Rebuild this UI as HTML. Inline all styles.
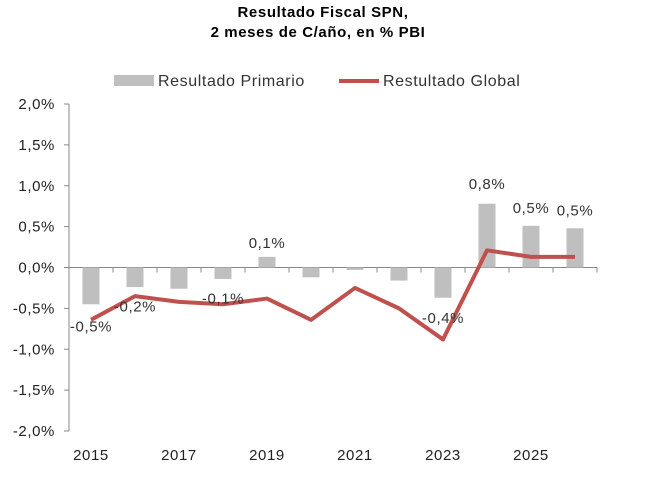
<!DOCTYPE html>
<html><head><meta charset="utf-8"><style>
body{margin:0;background:#fff;}
svg{display:block;font-family:"Liberation Sans",Arial,sans-serif;}
text{letter-spacing:0.6px;}
</style></head><body>
<svg id="chart" width="646" height="489">
<text x="323" y="17" text-anchor="middle" font-size="15" font-weight="bold" fill="#000">Resultado Fiscal SPN,</text>
<text x="318" y="37" text-anchor="middle" font-size="15" font-weight="bold" fill="#000">2 meses de C/año,  en % PBI</text>
<g>
<rect x="114" y="75" width="40" height="11" fill="#bfbfbf"/>
<text x="158" y="86" font-size="16" fill="#333">Resultado Primario</text>
<line x1="339" y1="81" x2="379" y2="81" stroke="#c0504d" stroke-width="4"/>
<text x="383" y="86" font-size="16" fill="#333">Restultado Global</text>
</g>
<g id="axes"></g><g id="bars"></g><g id="line"></g><g id="labels"></g>
</svg>
<script>
const years=["2015","2016","2017","2018","2019","2020","2021","2022","2023","2024","2025","2026"];
const primario=[-0.45,-0.24,-0.26,-0.14,0.13,-0.12,-0.03,-0.16,-0.37,0.78,0.51,0.48];
const global=[-0.64,-0.35,-0.42,-0.45,-0.38,-0.64,-0.25,-0.5,-0.88,0.21,0.13,0.13];
const labelText=["-0,5%","-0,2%","","-0,1%","0,1%","","","","-0,4%","0,8%","0,5%","0,5%"];
const labelVal=[-0.72,-0.48,null,-0.38,0.3,null,null,null,-0.62,1.02,0.73,0.70];
const yTicks=[2,1.5,1,0.5,0,-0.5,-1,-1.5,-2];
const yTickLabels=["2,0%","1,5%","1,0%","0,5%","0,0%","-0,5%","-1,0%","-1,5%","-2,0%"];
const NS="http://www.w3.org/2000/svg";
const x0=69,step=44,yTop=104,yBot=431;
const X=i=>x0+step*(i+0.5);
const Y=v=>yTop+(2-v)/4*(yBot-yTop);
function mk(tag,attrs,parent){const e=document.createElementNS(NS,tag);for(const k in attrs)e.setAttribute(k,attrs[k]);document.getElementById(parent).appendChild(e);return e;}
let e=mk("line",{x1:x0,y1:yTop,x2:x0,y2:yBot,stroke:"#888"},"axes");


yTicks.forEach((t,i)=>{
 let tk=mk("line",{x1:x0-5,y1:Y(t),x2:x0,y2:Y(t),stroke:"#888"},"axes");
 
 
 let tl=mk("text",{x:x0-14,y:Y(t)+5,"text-anchor":"end","font-size":"15",fill:"#222"},"axes");
 tl.textContent=yTickLabels[i];
 
 
});
e=mk("line",{x1:x0,y1:Y(0),x2:x0+step*years.length,y2:Y(0),stroke:"#888"},"axes");


for(let i=0;i<=years.length;i++){
 let tk=mk("line",{x1:x0+step*i,y1:Y(0),x2:x0+step*i,y2:Y(0)+5,stroke:"#888"},"axes");
 
 
}
years.forEach((y,i)=>{
 if(i%2)return;
 let tl=mk("text",{x:X(i),y:460,"text-anchor":"middle","font-size":"15",fill:"#222"},"axes");
 tl.textContent=y;
 
 
});
primario.forEach((v,i)=>{
 let r=mk("rect",{x:X(i)-8.5,y:Math.min(Y(v),Y(0)),width:17,height:Math.abs(Y(v)-Y(0)),fill:"#bfbfbf"},"bars");
 
 
});
let p=mk("polyline",{points:global.map((v,i)=>X(i)+","+Y(v)).join(" "),fill:"none",stroke:"#c0504d","stroke-width":"4","stroke-linejoin":"round"},"line");


labelText.forEach((t,i)=>{
 if(!t)return;
 let l=mk("text",{x:X(i),y:Y(labelVal[i])+5,"text-anchor":"middle","font-size":"15",fill:"#333"},"labels");
 l.textContent=t;
 
 
});
</script>
</body></html>
